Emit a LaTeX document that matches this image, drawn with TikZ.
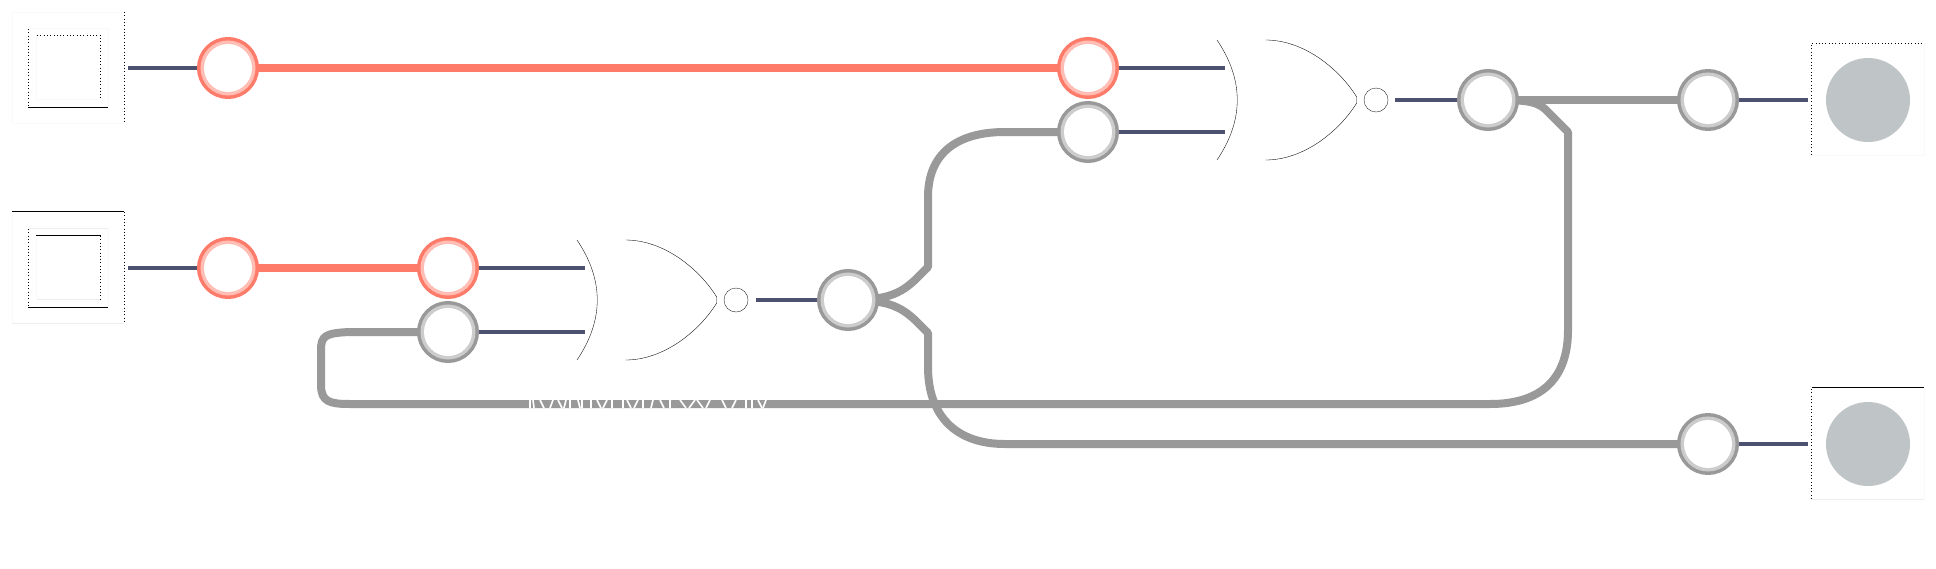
\documentclass[tikz,border=0pt]{standalone}
\usetikzlibrary{backgrounds}
\definecolor{coral}{HTML}{FF7B69}
\definecolor{palecoral}{HTML}{FFBDB4}
\definecolor{wiregray}{HTML}{999999}
\definecolor{palegray}{HTML}{CCCCCC}
\definecolor{darkwire}{HTML}{4D5170}
\definecolor{lampgray}{HTML}{BFC4C6}
\definecolor{faint}{HTML}{F9F9F9}
\definecolor{faintb}{HTML}{EEEEEE}
\tikzset{
  x=1pt,y=-1pt,
  ringbase/.style={circle,minimum size=48pt,inner sep=0pt,outer sep=4pt,line width=7pt},
  redring/.style={ringbase,draw=palecoral,preaction={draw=coral,line width=14pt},postaction={draw=none,fill=white}},
  grayring/.style={ringbase,draw=palegray,preaction={draw=wiregray,line width=14pt},postaction={draw=none,fill=white}},
  lamp/.style={circle,minimum size=84pt,inner sep=0pt,fill=lampgray},
  bubble/.style={circle,minimum size=24pt,inner sep=0pt,draw=black,line width=.3pt},
  gateline/.style={draw=black,line width=.35pt},
  sig/.style={draw=darkwire,line width=4pt},
  hot/.style={draw=coral,line width=8pt},
  cold/.style={draw=wiregray,line width=8pt,line join=round},
  dots/.style={draw=black,line width=1pt,dash pattern=on 1pt off 2.3pt},
  solidedge/.style={draw=black,line width=1pt},
  fainte/.style={draw=faint,line width=1pt},
  fainteb/.style={draw=faintb,line width=1pt},
  scar/.style={draw=white,line width=1.6pt}
}
\begin{document}
\begin{tikzpicture}
\useasboundingbox (0,0) rectangle (1936,568);
% input box 1
\draw[fainte] (12.5,123) -- (12.5,12.5) -- (124,12.5);
\draw[fainte] (12.5,123) -- (124,123);
\draw[dots] (124.3,12) -- (124.3,123);
\draw[fainte] (28.5,28) -- (108,28) -- (108,107.5);
\draw[dots] (28.5,29) -- (28.5,107);
\draw[solidedge] (28,107.5) -- (108,107.5);
\draw[fainte] (36.5,35) -- (36.5,99.5) -- (100,99.5);
\draw[dots] (37,35) -- (100,35) -- (100,99);
% input box 2
\draw[fainte] (12.5,211) -- (12.5,323);
\draw[fainteb] (12,323) -- (124,323);
\draw[solidedge] (12,211.5) -- (124,211.5);
\draw[dots] (124.3,212) -- (124.3,323);
\draw[fainteb] (28.5,228) -- (108,228);
\draw[fainte] (108,228) -- (108,307.5);
\draw[dots] (28.5,229) -- (28.5,307);
\draw[solidedge] (28,307.5) -- (108,307.5);
\draw[fainte] (36.5,235) -- (36.5,299.5);
\draw[fainteb] (36.5,299.5) -- (100,299.5);
\draw[solidedge] (36,235.5) -- (100.5,235.5);
\draw[dots] (100.3,236) -- (100.3,299);
% output boxes
\draw[fainte] (1811.5,155) -- (1924,155) -- (1924,43.5);
\draw[dots] (1811.5,155) -- (1811.5,43.5) -- (1924,43.5);
\draw[fainteb] (1811.5,499.5) -- (1924,499.5);
\draw[fainte] (1924,499.5) -- (1924,387.5);
\draw[dots] (1811.5,499) -- (1811.5,387.5);
\draw[solidedge] (1811.5,387.5) -- (1924,387.5);
% switches and junctions
\node[redring] (a1) at (228,68) {};
\node[redring] (a2) at (228,268) {};
\node[redring] (b1) at (448,268) {};
\node[grayring] (b2) at (448,332) {};
\node[grayring] (n1) at (848,300) {};
\node[redring] (c1) at (1088,68) {};
\node[grayring] (c2) at (1088,132) {};
\node[grayring] (n2) at (1488,100) {};
\node[grayring] (d1) at (1708,100) {};
\node[grayring] (d2) at (1708,444) {};
\node[lamp] (l1) at (1868,100) {};
\node[lamp] (l2) at (1868,444) {};
% gate 1
\draw[gateline] (577,240) .. controls (604,280) and (604,320) .. (577,360);
\draw[gateline] (625.5,240) .. controls (665,240) and (700,270) .. (716.7,297) -- (716.7,303) .. controls (700,330) and (665,360) .. (625.5,360);
\node[bubble] (g1) at (736,300) {};
% gate 2
\draw[gateline] (1217,40) .. controls (1244,80) and (1244,120) .. (1217,160);
\draw[gateline] (1265.5,40) .. controls (1305,40) and (1340,70) .. (1356.7,97) -- (1356.7,103) .. controls (1340,130) and (1305,160) .. (1265.5,160);
\node[bubble] (g2) at (1376,100) {};
% free wire ends
\coordinate (s1) at (128,68);
\coordinate (s2) at (128,268);
\coordinate (i1) at (584.5,268);
\coordinate (i2) at (584.5,332);
\coordinate (o1) at (755.5,300);
\coordinate (i3) at (1224.5,68);
\coordinate (i4) at (1224.5,132);
\coordinate (o2) at (1395,100);
\coordinate (e1) at (1808,100);
\coordinate (e2) at (1808,444);
\begin{scope}[on background layer]
\draw[hot] (a1.center) -- (c1.center);
\draw[hot] (a2.center) -- (b1.center);
\draw[cold] (n2.center) -- (d1.center);
\draw[cold] (n2.center) .. controls (1520,100) and (1535,100) .. (1545,109) -- (1568,132) -- (1568,330)
  .. controls (1568,380) and (1540,404) .. (1490,404) -- (350,404)
  .. controls (330,404) and (321,402) .. (321,385) -- (321,350)
  .. controls (321,336) and (325,333) .. (350,332) -- (b2.center);
\draw[cold] (n1.center) .. controls (885,300) and (900,295) .. (917,278) -- (928,267) -- (928,197)
  .. controls (928,155) and (955,132) .. (1005,132) -- (c2.center);
\draw[cold] (n1.center) .. controls (885,300) and (900,305) .. (917,322) -- (928,333) -- (928,367)
  .. controls (928,415) and (955,444) .. (1005,444) -- (d2.center);
\draw[sig] (s1) -- (a1);
\draw[sig] (s2) -- (a2);
\draw[sig] (b1) -- (i1);
\draw[sig] (b2) -- (i2);
\draw[sig] (o1) -- (n1);
\draw[sig] (c1) -- (i3);
\draw[sig] (c2) -- (i4);
\draw[sig] (o2) -- (n2);
\draw[sig] (d1) -- (e1);
\draw[sig] (d2) -- (e2);
\end{scope}
% unreadable white marks where the wire crosses
\foreach \a/\b in {530/530,533/534,540/544,553/550,558/562,566/564,570/570,578/580,582/582,591/591,597/601,607/603,612/612,623/623,627/631,638/634,643/643,653/651,660/664,670/670,680/686,695/689,697/703,710/706,722/726,736/732,746/746,752/752,758/762,766/763}
  \draw[scar] (\a,400) -- (\b,408);
\end{tikzpicture}
\end{document}
